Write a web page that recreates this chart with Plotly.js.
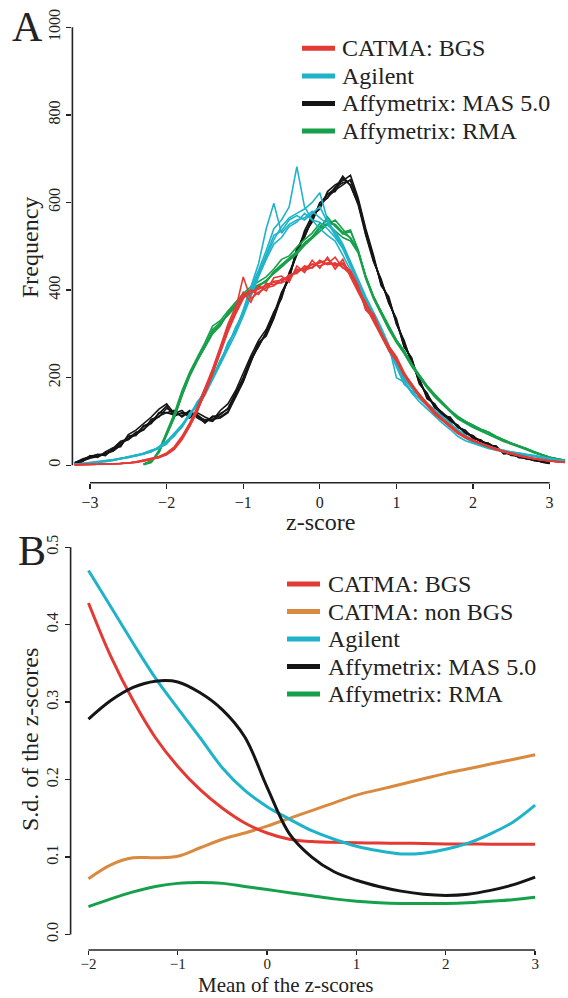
<!DOCTYPE html>
<html><head><meta charset="utf-8">
<script src="https://cdn.plot.ly/plotly-3.0.1.min.js"></script>
<style>html,body{margin:0;padding:0;background:#fff}</style>
</head><body><div id="chart" style="width:568px;height:998px"></div>
<script>
// ---------- Panel A: frequency of z-scores (replicate hybridisations) ----------
const zBins = [-3.2,-3.1,-3.0,-2.9,-2.8,-2.7,-2.6,-2.5,-2.4,-2.3,
  -2.2,-2.1,-2.0,-1.9,-1.8,-1.7,-1.6,-1.5,-1.4,-1.3,
  -1.2,-1.1,-1.0,-0.9,-0.8,-0.7,-0.6,-0.5,-0.4,-0.3,
  -0.2,-0.1,0.0,0.1,0.2,0.3,0.4,0.5,0.6,0.7,
  0.8,0.9,1.0,1.1,1.2,1.3,1.4,1.5,1.6,1.7,
  1.8,1.9,2.0,2.1,2.2,2.3,2.4,2.5,2.6,2.7,
  2.8,2.9,3.0,3.1,3.2];

const mas1 = [5,14,20,25,22,38,55,60,75,80, 105,110,130,120,112,125,108,98,110,115,
  130,165,200,245,270,305,345,395,425,495, 520,565,590,620,625,655,640,595,525,465,
  425,370,335,270,245,185,165,130,120,100, 92,72,68,52,50,38,32,22,21,14, 13,7,4,null,null];
const mas2 = [3,10,16,20,28,32,45,65,68,90, 95,120,120,115,118,115,115,102,105,108,
  120,155,190,235,280,295,335,385,435,485, 530,555,600,610,635,645,650,605,535,475,
  415,380,325,280,235,195,155,138,115,108, 88,78,62,57,45,42,28,27,18,16, 10,9,5,null,null];
const mas3 = [6,12,18,24,26,36,52,58,72,88, 100,118,135,112,120,118,110,104,100,118,
  128,158,198,238,272,302,342,388,428,488, 522,560,598,618,632,660,638,598,532,468,
  420,372,330,278,238,192,158,134,116,104, 90,74,64,56,46,40,30,24,20,14, 12,8,4,null,null];
const mas4 = [4,11,19,21,24,34,48,66,70,82, 98,112,120,125,110,122,114,96,112,110,
  122,162,192,242,278,298,338,392,432,492, 528,562,592,612,628,640,652,602,528,472,
  418,378,328,272,242,188,162,136,120,106, 88,76,66,54,50,40,30,26,20,16, 12,8,6,null,null];
const mas5 = [2,8,22,18,30,40,42,70,80,95, 110,128,140,118,125,108,120,110,102,125,
  140,170,210,250,285,310,350,380,440,480, 535,570,585,625,640,650,662,610,540,480,
  410,385,322,285,232,198,152,140,112,110, 86,80,60,58,44,44,26,28,17,17, 11,9,5,null,null];

const agi1 = [2,3,5,6,9,12,14,19,22,27, 33,40,50,72,88,118,138,172,198,238,
  270,315,345,405,445,490,540,560,590,682, 590,560,555,540,520,495,455,415,375,340,
  305,265,225,185,170,160,138,122,108,92, 78,62,52,46,40,36,32,30,26,24, 20,16,14,12,10];
const agi2 = [2,4,6,8,10,13,16,18,24,26, 30,42,55,68,92,112,142,168,202,232,
  280,305,355,410,460,540,598,530,550,560, 565,580,565,550,535,505,465,425,385,350,
  315,275,200,190,165,145,128,112,96,82, 66,56,50,44,38,34,30,28,24,22, 20,18,14,12,10];
const agi3 = [2,3,4,7,8,11,15,17,21,25, 31,38,52,66,90,112,145,165,200,240,
  272,312,352,398,438,478,515,545,565,575, 585,600,622,560,530,500,460,420,380,345,
  310,270,235,198,178,158,142,126,112,96, 82,68,56,50,44,38,34,30,28,24, 22,18,15,12,10];
const agi4 = [1,3,5,7,9,12,16,18,23,26, 32,41,54,72,92,118,138,175,205,232,
  278,308,348,392,438,482,525,535,560,570, 560,575,590,555,525,495,460,418,378,340,
  312,272,232,196,176,160,140,126,110,96, 80,66,56,48,42,38,34,30,28,25, 22,18,15,12,10];
const agi5 = [2,2,4,6,10,11,15,20,21,28, 34,39,48,70,86,115,135,160,195,228,
  265,300,340,385,430,470,505,520,545,555, 575,560,540,525,512,480,445,405,370,330,
  300,262,228,192,168,152,135,118,104,90, 76,64,54,46,40,36,31,28,26,23, 21,17,14,12,10];

const bgs1 = [1,1,2,2,3,3,4,5,7,10, 14,18,24,36,58,88,122,168,212,262,
  315,355,430,380,395,405,410,425,428,445, 448,458,462,470,455,458,438,400,372,338,
  298,268,242,208,186,158,138,118,104,88, 74,64,56,50,42,36,32,26,22,18, 15,12,10,8,7];
const bgs2 = [1,1,2,2,3,3,4,5,7,9, 13,19,26,40,62,92,128,162,208,258,
  305,345,380,400,390,415,412,418,435,438, 455,450,465,460,475,450,445,410,355,345,
  302,272,248,212,182,162,142,122,106,90, 76,66,58,50,44,38,32,28,22,18, 15,12,10,8,7];
const bgs3 = [1,1,2,2,3,3,4,5,6,10, 14,17,25,37,60,90,125,165,210,260,
  312,348,385,392,405,408,420,422,432,442, 452,460,455,462,458,462,442,405,368,342,
  300,270,245,210,185,160,140,120,105,90, 75,65,57,50,43,37,32,27,22,18, 15,12,10,8,7];
const bgs4 = [1,1,2,2,3,3,4,5,7,11, 15,18,25,39,61,89,124,166,209,261,
  308,352,388,398,402,412,418,416,425,448, 445,452,468,458,462,452,435,408,354,336,
  302,270,244,206,184,162,138,118,104,92, 76,64,56,50,42,36,32,26,22,18, 14,12,10,8,6];
const bgs5 = [1,1,2,2,2,3,4,5,8,12, 16,20,28,42,66,96,132,175,220,270,
  322,362,395,372,410,398,428,432,418,455, 440,468,450,475,448,470,430,395,362,330,
  295,262,238,204,180,156,136,116,102,88, 72,62,55,48,41,35,30,25,21,17, 14,11,9,8,6];

const rma1 = [null,null,null,null,null,null,null,null,null,2, 8,30,72,112,162,208,242,272,310,325,
  342,362,388,402,412,418,442,458,472,488, 508,522,545,560,548,528,535,492,428,384,
  352,318,286,262,232,206,182,162,144,126, 112,100,92,82,76,66,58,50,44,38, 30,24,18,14,11];
const rma2 = [null,null,null,null,null,null,null,null,null,3, 10,28,68,108,158,202,238,268,300,318,
  348,368,382,398,408,422,438,452,468,482, 502,518,535,550,560,540,518,488,432,386,
  348,312,284,258,228,204,178,158,140,124, 108,98,88,80,74,64,56,50,44,36, 30,24,18,14,11];
const rma3 = [null,null,null,null,null,null,null,null,null,1, 6,32,70,110,160,205,240,270,305,320,
  345,365,385,400,410,420,440,455,470,485, 505,520,540,567,545,530,520,490,430,385,
  350,315,285,260,230,205,180,160,142,125, 110,100,90,82,75,65,57,50,44,37, 30,24,18,14,11];
const rma4 = [null,null,null,null,null,null,null,null,null,2, 9,31,71,111,161,206,239,271,306,322,
  346,366,386,401,411,421,441,456,471,486, 506,521,540,552,550,532,537,490,430,385,
  350,315,285,260,230,205,180,160,142,125, 110,100,90,82,75,65,57,50,44,37, 30,24,18,14,11];
const rma5 = [null,null,null,null,null,null,null,null,null,2, 7,34,75,118,170,212,246,280,318,330,
  352,372,392,408,420,430,448,470,478,498, 515,530,552,548,535,520,512,485,425,380,
  345,310,280,255,225,200,176,156,138,122, 106,96,86,78,70,62,54,48,42,35, 28,22,17,13,10];

const legendA = ["CATMA: BGS", "Agilent", "Affymetrix: MAS 5.0", "Affymetrix: RMA"];

// ---------- Panel B: s.d. of z-scores vs mean ----------
const meanZ = [-2,-1.75,-1.5,-1.25,-1,-0.75,-0.5,-0.25,0,0.25,0.5,0.75,1,1.25,1.5,1.75,2,2.25,2.5,2.75,3];
const sdBGS = [0.428,0.359,0.302,0.254,0.217,0.187,0.163,0.144,0.131,0.123,0.120,0.119,0.1185,0.118,0.1178,0.1175,0.117,0.1168,0.1166,0.1165,0.1164];
const sdNonBGS = [0.072,0.090,0.099,0.099,0.101,0.112,0.123,0.131,0.140,0.150,0.160,0.170,0.180,0.187,0.194,0.201,0.208,0.214,0.220,0.226,0.232];
const sdAgilent = [0.470,0.423,0.376,0.331,0.292,0.254,0.215,0.186,0.165,0.149,0.134,0.123,0.114,0.108,0.104,0.105,0.110,0.118,0.130,0.145,0.167];
const sdMAS = [0.278,0.302,0.319,0.327,0.326,0.312,0.290,0.255,0.190,0.130,0.100,0.081,0.070,0.062,0.056,0.052,0.0505,0.052,0.057,0.064,0.074];
const sdRMA = [0.036,0.046,0.055,0.062,0.066,0.067,0.066,0.062,0.058,0.054,0.050,0.046,0.043,0.041,0.040,0.040,0.040,0.041,0.043,0.045,0.048];
const legendB = ["CATMA: BGS", "CATMA: non BGS", "Agilent", "Affymetrix: MAS 5.0", "Affymetrix: RMA"];

// ---------- styling ----------
const C = {red:"#e43a36", cyan:"#1fb3c9", black:"#151515", green:"#17a04b", orange:"#d98a3e"};
const serif = "Liberation Serif";
const W = 568, H = 998;
const px = v => v / W, py = v => 1 - v / H;

const traces = [];
const groupsA = [
  {name: legendA[2], color: C.black, reps: [mas1, mas2, mas3, mas4, mas5]},
  {name: legendA[3], color: C.green, reps: [rma1, rma2, rma3, rma4, rma5]},
  {name: legendA[1], color: C.cyan,  reps: [agi1, agi2, agi3, agi4, agi5]},
  {name: legendA[0], color: C.red,   reps: [bgs1, bgs2, bgs3, bgs4, bgs5]}
];
groupsA.forEach(g => g.reps.forEach(r => traces.push({
  x: zBins, y: r, type: "scatter", mode: "lines", name: g.name,
  line: {color: g.color, width: 1.6}, xaxis: "x", yaxis: "y", showlegend: false, hoverinfo: "skip"
})));

const seriesB = [
  {name: legendB[1], color: C.orange, y: sdNonBGS},
  {name: legendB[4], color: C.green,  y: sdRMA},
  {name: legendB[0], color: C.red,    y: sdBGS},
  {name: legendB[2], color: C.cyan,   y: sdAgilent},
  {name: legendB[3], color: C.black,  y: sdMAS}
];
seriesB.forEach(s => traces.push({
  x: meanZ, y: s.y, type: "scatter", mode: "lines", name: s.name,
  line: {color: s.color, width: 3, shape: "spline", smoothing: 1},
  xaxis: "x2", yaxis: "y2", showlegend: false, hoverinfo: "skip"
}));

const tickFont = {family: serif, size: 16, color: "#222"};
const axBase = {showgrid: false, zeroline: false, showline: false, ticks: "outside",
  ticklen: 5, tickwidth: 1.3, tickcolor: "#222", tickfont: tickFont, fixedrange: true};

const shapes = [], annotations = [];
// R-style axis lines spanning only first..last tick
shapes.push({type:"line", xref:"x", yref:"y domain", x0:-3, x1:3, y0:0, y1:0, line:{color:"#222", width:1.6}});
shapes.push({type:"line", xref:"x domain", yref:"y", x0:0, x1:0, y0:0, y1:1000, line:{color:"#222", width:1.6}});
shapes.push({type:"line", xref:"x2", yref:"y2 domain", x0:-2, x1:3, y0:0, y1:0, line:{color:"#222", width:1.6}});
shapes.push({type:"line", xref:"x2 domain", yref:"y2", x0:0, x1:0, y0:0, y1:0.5, line:{color:"#222", width:1.6}});

// legends
const legAColors = [C.red, C.cyan, C.black, C.green];
legendA.forEach((t, i) => {
  const yy = 48.3 + i * 27.6;
  shapes.push({type:"line", xref:"paper", yref:"paper", x0:px(302), x1:px(335), y0:py(yy), y1:py(yy), line:{color:legAColors[i], width:5}});
  annotations.push({text:t, xref:"paper", yref:"paper", x:px(340), y:py(yy), xanchor:"left", yanchor:"middle", showarrow:false, font:{family:serif, size:24, color:"#222"}});
});
const legBColors = [C.red, C.orange, C.cyan, C.black, C.green];
legendB.forEach((t, i) => {
  const yy = 584 + i * 27.5;
  shapes.push({type:"line", xref:"paper", yref:"paper", x0:px(287), x1:px(320), y0:py(yy), y1:py(yy), line:{color:legBColors[i], width:5}});
  annotations.push({text:t, xref:"paper", yref:"paper", x:px(326), y:py(yy), xanchor:"left", yanchor:"middle", showarrow:false, font:{family:serif, size:24, color:"#222"}});
});

// axis titles and panel letters
const titleFont = {family: serif, size: 24, color: "#222"};
annotations.push({text:"z-score", xref:"paper", yref:"paper", x:px(320), y:py(522), xanchor:"center", yanchor:"middle", showarrow:false, font:titleFont});
annotations.push({text:"Frequency", xref:"paper", yref:"paper", x:px(30), y:py(248), textangle:-90, xanchor:"center", yanchor:"middle", showarrow:false, font:titleFont});
annotations.push({text:"Mean of the z-scores", xref:"paper", yref:"paper", x:px(286), y:py(985), xanchor:"center", yanchor:"middle", showarrow:false, font:{family: serif, size: 21, color: "#222"}});
annotations.push({text:"S.d. of the z-scores", xref:"paper", yref:"paper", x:px(30), y:py(740), textangle:-90, xanchor:"center", yanchor:"middle", showarrow:false, font:titleFont});
annotations.push({text:"A", xref:"paper", yref:"paper", x:px(28), y:py(27), xanchor:"center", yanchor:"middle", showarrow:false, font:{family:serif, size:42, color:"#222"}});
annotations.push({text:"B", xref:"paper", yref:"paper", x:px(32), y:py(551), xanchor:"center", yanchor:"middle", showarrow:false, font:{family:serif, size:42, color:"#222"}});

const layout = {
  width: W, height: H, margin: {l:0, r:0, t:0, b:0}, showlegend: false,
  paper_bgcolor: "#fff", plot_bgcolor: "#fff",
  font: {family: serif},
  xaxis: Object.assign({}, axBase, {domain:[px(72.4), 1], range:[-3.23, 3.24], tickvals:[-3,-2,-1,0,1,2,3], anchor:"y"}),
  yaxis: Object.assign({}, axBase, {domain:[py(482.7), py(9.8)], range:[-40, 1040], tickvals:[0,200,400,600,800,1000], tickangle:-90, anchor:"x"}),
  xaxis2: Object.assign({}, axBase, {domain:[px(70.6), px(553)], range:[-2.2, 3.2], tickvals:[-2,-1,0,1,2,3], anchor:"y2",
    ticklen: 4, ticklabelstandoff: -4, tickfont: {family: serif, size: 15, color: "#222"}}),
  yaxis2: Object.assign({}, axBase, {domain:[py(950), py(531.7)], range:[-0.02, 0.52], tickvals:[0,0.1,0.2,0.3,0.4,0.5], tickformat:".1f", tickangle:-90, anchor:"x2"}),
  shapes: shapes, annotations: annotations
};

Plotly.newPlot("chart", traces, layout, {displayModeBar: false, staticPlot: true});
</script></body></html>
